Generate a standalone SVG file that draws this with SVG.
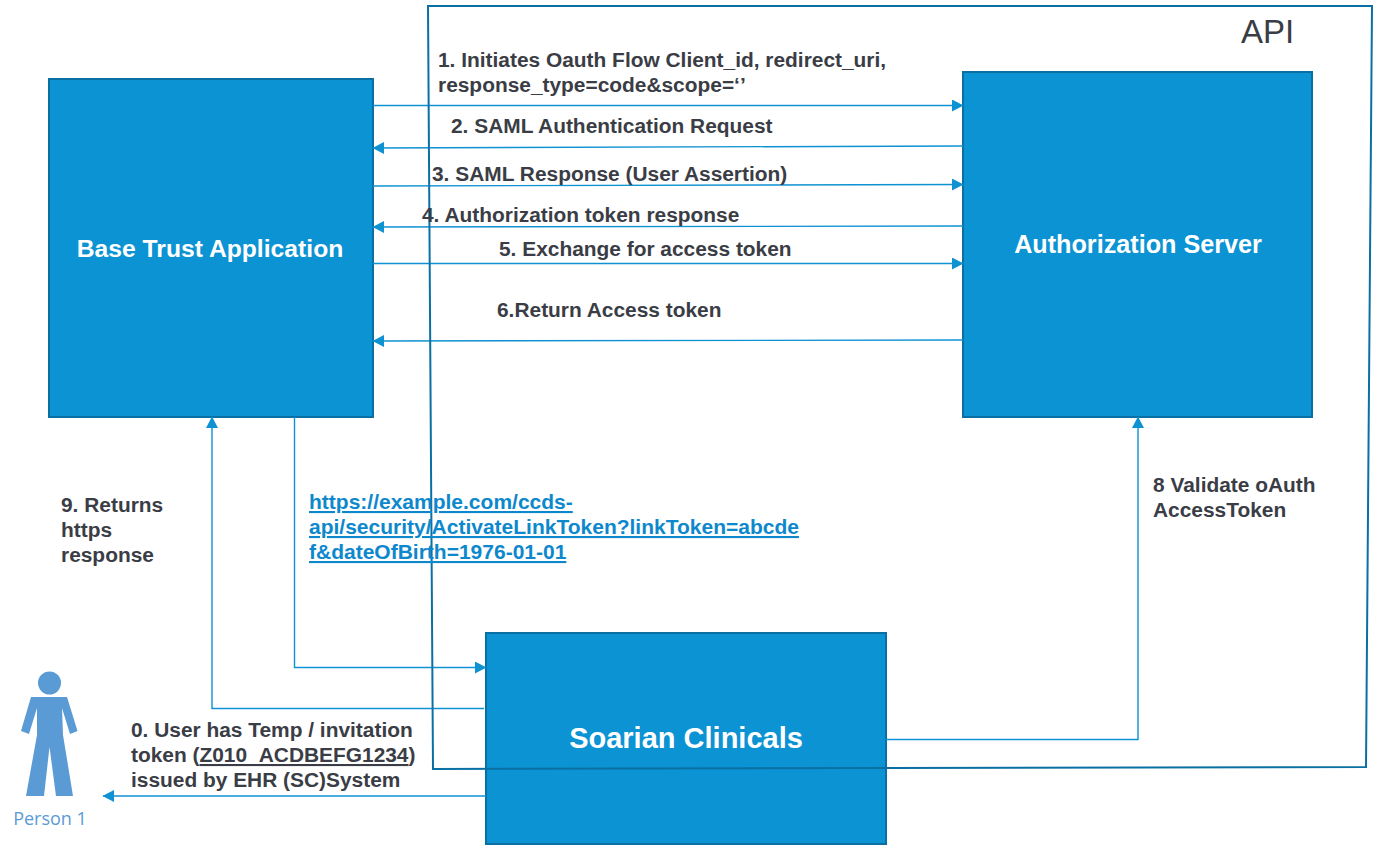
<svg xmlns="http://www.w3.org/2000/svg" width="1374" height="845" viewBox="0 0 1374 845">
<style>
text{font-family:"Liberation Sans",Arial,sans-serif;font-weight:700;font-size:20.9px;fill:#3a3d45}
.box{fill:#0c93d3;stroke:#0a70a4;stroke-width:2}
.nt{fill:#fff;text-anchor:middle}
.c{fill:none;stroke:#0e92d2;stroke-width:1.4}
.lk{fill:#0e88cc;font-size:21px;text-decoration:underline}
</style>
<defs>
<marker id="a" markerUnits="userSpaceOnUse" markerWidth="12" markerHeight="12" refX="11" refY="6" orient="auto"><path d="M0,0L11.500,6L0,12Z" fill="#0e92d2"/></marker>
</defs>
<rect width="1374" height="845" fill="#fff"/>
<g id="node-base-trust">
<rect class="box" x="49" y="79" width="324" height="338"/>
<text class="nt" x="210" y="257" style="font-size:24.700px">Base Trust Application</text>
</g>
<g id="node-auth-server">
<rect class="box" x="963" y="72" width="349" height="345"/>
<text class="nt" x="1138" y="253" style="font-size:25.200px">Authorization Server</text>
</g>
<g id="node-soarian">
<rect class="box" x="486" y="633" width="400" height="211"/>
<text class="nt" x="686" y="748" style="font-size:29px">Soarian Clinicals</text>
</g>
<g id="connectors">
<path class="c" marker-end="url(#a)" d="M373,105.500H963"/>
<path class="c" marker-end="url(#a)" d="M963,146L373,148"/>
<path class="c" marker-end="url(#a)" d="M373,186L963,184.500"/>
<path class="c" marker-end="url(#a)" d="M963,226L373,227"/>
<path class="c" marker-end="url(#a)" d="M373,263.500H963"/>
<path class="c" marker-end="url(#a)" d="M963,340L373,341"/>
<path class="c" marker-end="url(#a)" d="M294.500,417V667.500H486"/>
<path class="c" marker-end="url(#a)" d="M484,708.500H212V417"/>
<path class="c" marker-end="url(#a)" d="M886,739.500H1138V417"/>
<path class="c" marker-end="url(#a)" d="M486,796H103"/>
</g>
<g id="node-api">
<path d="M428,6L1372,6L1366,767L433,769Z" fill="none" stroke="#0a70a4" stroke-width="2"/>
<text x="1241" y="43" style="font-size:33px;font-weight:400">API</text>
</g>
<g id="labels">
<text x="438" y="67">1. Initiates Oauth Flow Client_id, redirect_uri,</text>
<text x="438" y="92">response_type=code&amp;scope=‘’</text>
<text x="451" y="133">2. SAML Authentication Request</text>
<text x="432" y="181">3. SAML Response (User Assertion)</text>
<text x="422" y="222">4. Authorization token response</text>
<text x="499" y="256">5. Exchange for access token</text>
<text x="497" y="317">6.Return Access token</text>
<text x="61" y="512">9. Returns</text>
<text x="61" y="537">https</text>
<text x="61" y="562">response</text>
<text class="lk" x="309" y="509">https://example.com/ccds-</text>
<text class="lk" x="309" y="534">api/security/ActivateLinkToken?linkToken=abcde</text>
<text class="lk" x="309" y="559">f&amp;dateOfBirth=1976-01-01</text>
<text x="1153" y="492">8 Validate oAuth</text>
<text x="1153" y="517">AccessToken</text>
<text x="131" y="737">0. User has Temp / invitation</text>
<text x="131" y="762">token (<tspan text-decoration="underline">Z010_ACDBEFG1234</tspan>)</text>
<text x="131" y="787">issued by EHR (SC)System</text>
</g>
<g id="node-person">
<circle cx="49.500" cy="683" r="11.500" fill="#5b9bd5"/>
<path d="M31,697L67,697L77.500,731L70,734L62,708L63,735L73,796L56,796L49.500,747L44,796L26,796L37,735L37,708L29,734L21,731Z" fill="#5b9bd5"/>
<text x="50" y="825" text-anchor="middle" style="font-family:'Open Sans','Noto Sans',sans-serif;font-size:18px;font-weight:400;fill:#5b9bd5">Person 1</text>
</g>
</svg>
